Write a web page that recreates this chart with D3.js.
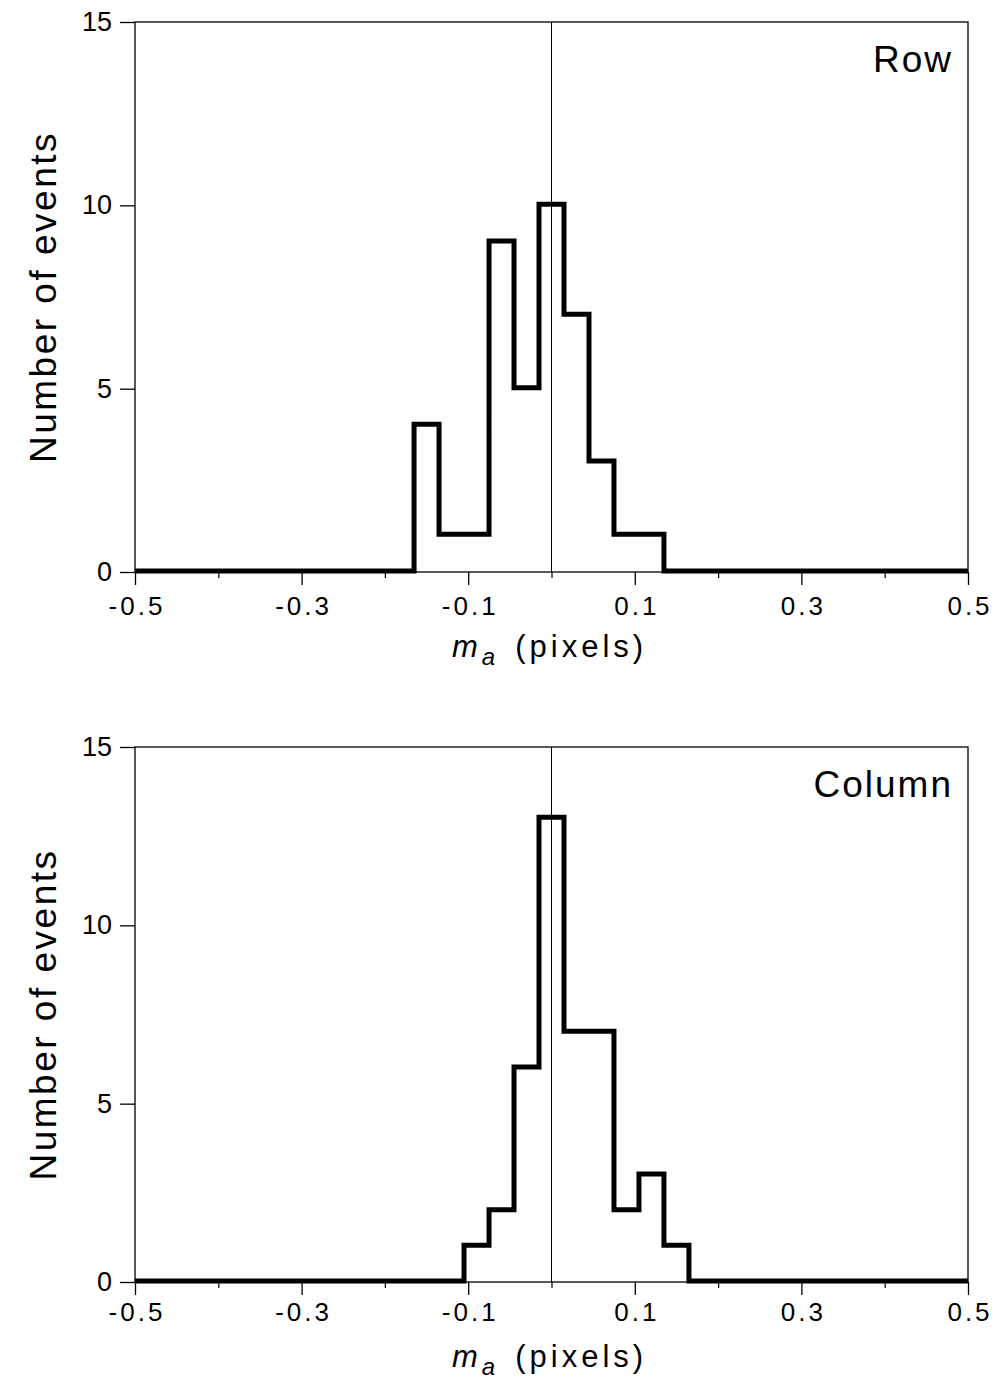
<!DOCTYPE html>
<html>
<head>
<meta charset="utf-8">
<script src="https://cdn.jsdelivr.net/npm/d3@7"></script>
<style>
  body { margin: 0; background: #fff; }
  svg { display: block; }
  text { font-family: "Liberation Sans", Arial, sans-serif; fill: #000; }
</style>
</head>
<body>
<div id="chart"></div>
<script>
const binEdges = [-0.165, -0.135, -0.105, -0.075, -0.045, -0.015, 0.015, 0.045, 0.075, 0.105, 0.135, 0.165]
const rowCounts = [4, 1, 1, 9, 5, 10, 7, 3, 1, 1, 0]
const columnCounts = [0, 0, 1, 2, 6, 13, 7, 7, 2, 3, 1]
const xMajorTicks = [-0.5, -0.3, -0.1, 0.1, 0.3, 0.5]
const xMinorTicks = [-0.4, -0.2, 0, 0.2, 0.4]
const yTicks = [0, 5, 10, 15]

const width = 992
const height = 1385
const font = "'Liberation Sans', Arial, sans-serif"

const panels = [
    { label: "Row", counts: rowCounts, top: 22, bottom: 572, pad: 12 },
    { label: "Column", counts: columnCounts, top: 747, bottom: 1282, pad: 8 }
]

let svg = d3.select("#chart").append("svg")
    .attr("width", width)
    .attr("height", height)

let x = d3.scaleLinear()
    .domain([-0.5, 0.5])
    .range([135, 968])

panels.forEach(function (p) {
    let y = d3.scaleLinear()
        .domain([0, 15])
        .range([p.bottom, p.top])

    let g = svg.append("g")

    // frame
    g.append("rect")
        .attr("x", x(-0.5))
        .attr("y", y(15))
        .attr("width", x(0.5) - x(-0.5))
        .attr("height", y(0) - y(15))
        .style("fill", "none")
        .style("stroke", "#000")
        .style("stroke-width", 1.3)

    // zero line
    g.append("line")
        .attr("x1", x(0)).attr("x2", x(0))
        .attr("y1", y(15)).attr("y2", y(0))
        .style("stroke", "#000")
        .style("stroke-width", 1)

    // x axis, major + minor ticks
    let xg = g.append("g")
        .attr("transform", `translate(0,${y(0)})`)
        .call(d3.axisBottom(x).tickValues(xMajorTicks).tickSize(13).tickPadding(p.pad))
    xg.select(".domain").remove()
    xg.selectAll("line").style("stroke-width", 1.3)
    xg.selectAll("text")
        .style("font-size", "26px")
        .style("font-family", font)
        .attr("letter-spacing", "3px")
        .attr("dx", "1.5px")
        .text(d => d3.format(".1f")(d).replace("−", "-"))

    let xMinor = g.append("g")
        .attr("transform", `translate(0,${y(0)})`)
        .call(d3.axisBottom(x).tickValues(xMinorTicks).tickSize(6).tickFormat(""))
    xMinor.select(".domain").remove()
    xMinor.selectAll("line").style("stroke-width", 1.2)

    // y axis
    let yg = g.append("g")
        .attr("transform", `translate(${x(-0.5)},0)`)
        .call(d3.axisLeft(y).tickValues(yTicks).tickSize(15).tickPadding(8))
    yg.select(".domain").remove()
    yg.selectAll("line").style("stroke-width", 1.3)
    yg.selectAll("text")
        .style("font-size", "27px")
        .style("font-family", font)

    // histogram outline
    let pts = [[-0.5, 0]]
    p.counts.forEach(function (c, i) { pts.push([binEdges[i], c]) })
    pts.push([binEdges[binEdges.length - 1], 0])
    pts.push([0.5, 0])

    let step = d3.line()
        .curve(d3.curveStepAfter)
        .x(d => x(d[0]))
        .y(d => y(d[1]) - 1)

    g.append("path")
        .datum(pts)
        .attr("d", step)
        .style("fill", "none")
        .style("stroke", "#000")
        .style("stroke-width", 5)
        .style("stroke-linejoin", "miter")

    // panel label
    g.append("text")
        .attr("x", x(0.5) - 15)
        .attr("y", y(15) + 50)
        .attr("text-anchor", "end")
        .style("font-size", "37px")
        .attr("letter-spacing", "2px")
        .text(p.label)

    // y axis label
    g.append("text")
        .attr("transform", `translate(56,${(y(0) + y(15)) / 2}) rotate(-90)`)
        .attr("text-anchor", "middle")
        .style("font-size", "37px")
        .attr("letter-spacing", "2.5px")
        .text("Number of events")

    // x axis label
    let xl = g.append("text")
        .attr("x", 452)
        .attr("y", y(0) + 85)
        .style("font-size", "31px")
        .attr("letter-spacing", "4px")
    xl.append("tspan").style("font-style", "italic").text("m")
    xl.append("tspan").style("font-style", "italic").style("font-size", "24px").attr("dy", 8).text("a")
    xl.append("tspan").attr("dy", -8).attr("dx", 16).text("(pixels)")
})
</script>
</body>
</html>
